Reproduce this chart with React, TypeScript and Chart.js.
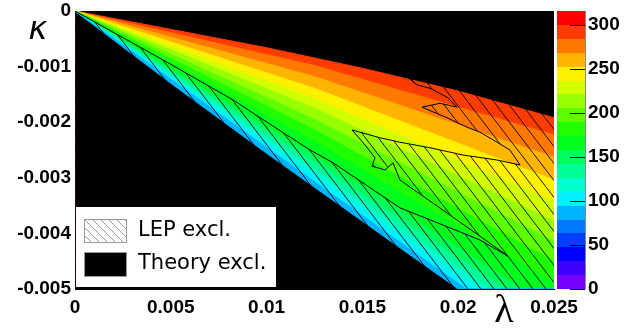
import React, { useEffect, useRef } from 'react';
import { Chart, registerables } from 'chart.js';

Chart.register(...registerables);

// ---------- axis ticks ----------
const xTicks = [0, 0.005, 0.01, 0.015, 0.02, 0.025];
const xTickLabels = ['0', '0.005', '0.01', '0.015', '0.02', '0.025'];
const yTicks = [0, -0.001, -0.002, -0.003, -0.004, -0.005];
const yTickLabels = ['0', '-0.001', '-0.002', '-0.003', '-0.004', '-0.005'];
const zTicks = [0, 50, 100, 150, 200, 250, 300];
const zTickLabels = ['0', '50', '100', '150', '200', '250', '300'];

// ---------- colour scale (20 contour bands) ----------
const zLevels = [0, 15.8, 31.6, 47.4, 63.2, 79, 94.8, 110.6, 126.4, 142.2, 158, 173.8, 189.6, 205.4, 221.2, 237, 252.8, 268.6, 284.4, 300.2, 316];
const bandColors = [
  'rgb(119,0,255)', 'rgb(59,0,255)', 'rgb(0,2,255)', 'rgb(0,61,255)', 'rgb(0,121,255)',
  'rgb(0,181,255)', 'rgb(0,241,255)', 'rgb(0,255,209)', 'rgb(0,255,150)', 'rgb(0,255,90)',
  'rgb(0,255,29)', 'rgb(31,255,0)', 'rgb(91,255,0)', 'rgb(151,255,0)', 'rgb(210,255,0)',
  'rgb(255,240,0)', 'rgb(255,180,0)', 'rgb(255,120,0)', 'rgb(255,60,0)', 'rgb(255,0,0)',
];

// ---------- theory-allowed wedge ----------
const upperLambda = [0, 0.005, 0.01, 0.015, 0.02, 0.025];
const upperKappa = [0, -0.00033, -0.00066, -0.00103, -0.00144, -0.00192];
const lowerLambda = [0, 0.005, 0.01, 0.015, 0.02, 0.025];
const lowerKappa = [0, -0.0013, -0.00256, -0.00378, -0.005, -0.005];

// ---------- contour lines of the colour map ----------
const contourLevels = [94.8, 110.6, 126.4, 142.2, 158, 173.8, 189.6, 205.4, 221.2, 237, 252.8, 268.6, 284.4];
const contourMidLambda = 0.0125;
const contourMidKappa = [-0.00307, -0.00296, -0.00285, -0.00272, -0.0026, -0.00235, -0.00214, -0.00195, -0.00175, -0.00158, -0.00139, -0.00118, -0.00098];
const contourEndLambda = [0.02041, 0.02098, 0.02166, 0.02244, 0.02333, 0.025, 0.025, 0.025, 0.025, 0.025, 0.025, 0.025, 0.025];
const contourEndKappa = [-0.005, -0.005, -0.005, -0.005, -0.005, -0.00489, -0.0045, -0.00414, -0.00378, -0.00342, -0.00304, -0.00263, -0.00223];

// ---------- LEP exclusion contour (boundary of allowed region) ----------
const lepLambda = [0.0172, 0.01785, 0.01853, 0.01942, 0.01994, 0.01905, 0.01811, 0.01942, 0.02046, 0.02114, 0.02203, 0.0227, 0.02323, 0.02203, 0.02025, 0.01853, 0.01696, 0.01592, 0.01446, 0.01514, 0.01566, 0.0155, 0.01618, 0.0166, 0.01696, 0.01957, 0.02114, 0.0226, 0.02114, 0.01957, 0.01696, 0.01347, 0.01227, 0.00966, 0.00825, 0.0048, 0];
const lepKappa = [-0.00115, -0.00133, -0.00139, -0.00155, -0.00173, -0.00166, -0.00173, -0.00192, -0.00209, -0.00218, -0.00236, -0.0025, -0.00277, -0.00268, -0.00259, -0.00246, -0.00236, -0.00228, -0.00214, -0.00241, -0.00264, -0.00279, -0.00286, -0.00273, -0.00304, -0.00367, -0.00405, -0.00441, -0.00412, -0.0039, -0.00354, -0.00273, -0.0025, -0.00192, -0.0016, -0.00092, 0];

const legendLabels = ['LEP excl.', 'Theory excl.'];
const xTitle = 'λ';
const yTitle = 'κ';

type P = { x: number; y: number };

function zip(xs: number[], ys: number[]): P[] {
  return xs.map((x, i) => ({ x, y: ys[i] }));
}

function contourPoints(k: number): P[] {
  const pts: P[] = [
    { x: 0, y: 0 },
    { x: contourMidLambda, y: contourMidKappa[k] },
    { x: contourEndLambda[k], y: contourEndKappa[k] },
  ];
  if (contourEndLambda[k] < 0.025) pts.push({ x: 0.025, y: -0.005 });
  return pts;
}

function makeHatch(): CanvasPattern | string {
  const c = document.createElement('canvas');
  const w = 13, h = 17;
  c.width = w;
  c.height = h;
  const g = c.getContext('2d');
  if (!g) return 'rgba(0,0,0,0)';
  g.strokeStyle = 'rgba(0,0,0,0.9)';
  g.lineWidth = 1;
  for (const n of [-1, 0, 1]) {
    g.beginPath();
    g.moveTo(0, n * h);
    g.lineTo(w, h + n * h);
    g.stroke();
  }
  return g.createPattern(c, 'repeat') || 'rgba(0,0,0,0)';
}

const tickFont = { family: "'Liberation Sans', Arial, sans-serif", size: 19, weight: 'bold' as const, lineHeight: 1 };

function noPad(s: any) {
  s.paddingTop = 0;
  s.paddingBottom = 0;
  s.paddingLeft = 0;
  s.paddingRight = 0;
}

const decorPlugin = {
  id: 'rootDecor',
  beforeDraw(chart: any) {
    const { ctx, chartArea: a } = chart;
    ctx.save();
    ctx.fillStyle = '#000';
    ctx.fillRect(a.left, a.top, a.right - a.left, a.bottom - a.top);
    ctx.restore();
  },
  afterDraw(chart: any) {
    const { ctx, chartArea: a } = chart;
    const z = chart.scales.z;
    ctx.save();
    // colour bar
    const cbL = a.right + 3;
    const cbW = 28;
    for (let i = 0; i < bandColors.length; i++) {
      const y1 = z.getPixelForValue(zLevels[i]);
      const y2 = z.getPixelForValue(zLevels[i + 1]);
      ctx.fillStyle = bandColors[i];
      ctx.fillRect(cbL, Math.round(y2), cbW, Math.round(y1) - Math.round(y2));
    }
    ctx.strokeStyle = '#000';
    ctx.lineWidth = 1;
    for (const v of zTicks) {
      const y = Math.round(z.getPixelForValue(v)) + 0.5;
      ctx.beginPath();
      ctx.moveTo(cbL + 13, y);
      ctx.lineTo(cbL + cbW, y);
      ctx.stroke();
    }
    ctx.strokeStyle = '#888';
    ctx.beginPath();
    ctx.moveTo(cbL + cbW + 0.5, Math.round(z.getPixelForValue(zLevels[zLevels.length - 1])));
    ctx.lineTo(cbL + cbW + 0.5, Math.round(z.getPixelForValue(0)));
    ctx.stroke();

    // legend
    const lx = a.left + 1, ly = 207, lw = 200, lh = 80;
    ctx.fillStyle = '#fff';
    ctx.fillRect(lx, ly, lw, lh);
    // hatch swatch
    const sx = 84, sw = 43, sh = 24;
    const s1y = 219, s2y = 252;
    ctx.save();
    ctx.beginPath();
    ctx.rect(sx, s1y, sw, sh);
    ctx.clip();
    ctx.strokeStyle = '#999';
    ctx.lineWidth = 1;
    for (let k = -40; k < sw + 10; k += 8) {
      ctx.beginPath();
      ctx.moveTo(sx + k, s1y);
      ctx.lineTo(sx + k + sh, s1y + sh);
      ctx.stroke();
    }
    ctx.restore();
    ctx.strokeStyle = '#999';
    ctx.strokeRect(sx + 0.5, s1y + 0.5, sw - 1, sh - 1);
    ctx.fillStyle = '#000';
    ctx.fillRect(sx, s2y, sw, sh + 1);
    ctx.strokeRect(sx + 0.5, s2y + 0.5, sw - 1, sh);
    ctx.fillStyle = '#000';
    ctx.font = "21px 'DejaVu Sans', sans-serif";
    ctx.textAlign = 'left';
    ctx.textBaseline = 'middle';
    ctx.fillText(legendLabels[0], 138, s1y + sh / 2);
    ctx.fillText(legendLabels[1], 138, s2y + sh / 2);

    // axis titles
    ctx.textAlign = 'center';
    ctx.textBaseline = 'middle';
    ctx.font = "italic 32px 'DejaVu Sans', sans-serif";
    ctx.fillText(yTitle, 38, 31);
    ctx.font = "40px 'Liberation Serif', serif";
    ctx.fillText(xTitle, 504, 311);
    ctx.restore();
  },
};

export default function App() {
  const ref = useRef<HTMLCanvasElement>(null);
  useEffect(() => {
    const canvas = ref.current;
    if (!canvas) return;
    const hatch = makeHatch();

    const boundaries: P[][] = [zip(lowerLambda, lowerKappa)];
    contourLevels.forEach((_, k) => boundaries.push(contourPoints(k)));
    boundaries.push(zip(upperLambda, upperKappa));
    const firstBand = zLevels.findIndex((l) => Math.abs(l - contourLevels[0]) < 1e-6) - 1;

    const datasets: any[] = [];
    for (let k = 0; k < boundaries.length - 1; k++) {
      const poly = [...boundaries[k], ...boundaries[k + 1].slice().reverse()];
      const col = bandColors[firstBand + k];
      datasets.push({
        data: poly,
        fill: 'shape',
        backgroundColor: col,
        borderColor: col,
        borderWidth: 1,
        pointRadius: 0,
        order: 3,
      });
    }
    const lepPts = zip(lepLambda, lepKappa);
    const hatchPoly = [
      ...lepPts,
      { x: 0, y: -0.005 },
      { x: 0.025, y: -0.005 },
      { x: 0.025, y: 0 },
      { x: lepLambda[0], y: 0 },
    ];
    datasets.push({
      data: hatchPoly,
      fill: 'shape',
      backgroundColor: hatch,
      borderColor: 'rgba(0,0,0,0)',
      borderWidth: 0,
      pointRadius: 0,
      order: 2,
    });
    datasets.push({
      data: lepPts,
      fill: false,
      borderColor: '#000',
      borderWidth: 1,
      pointRadius: 0,
      order: 1,
    });

    const chart = new Chart(canvas, {
      type: 'line',
      data: { datasets },
      plugins: [decorPlugin],
      options: {
        animation: false,
        responsive: false,
        devicePixelRatio: 1,
        events: [],
        layout: { autoPadding: false, padding: { top: 11, left: 0, right: 0, bottom: 0 } },
        plugins: { legend: { display: false }, tooltip: { enabled: false } },
        scales: {
          x: {
            type: 'linear',
            min: 0,
            max: 0.025,
            grid: { display: false, drawTicks: false },
            border: { display: true, color: '#000', width: 1 },
            afterBuildTicks: (s: any) => { s.ticks = xTicks.map((v) => ({ value: v })); },
            afterFit: (s: any) => { s.height = 40; noPad(s); },
            ticks: {
              autoSkip: false,
              maxRotation: 0,
              padding: 9,
              color: '#000',
              font: tickFont,
              callback: (_v: any, i: number) => xTickLabels[i],
            },
          },
          y: {
            type: 'linear',
            min: -0.005,
            max: 0,
            grid: { display: false, drawTicks: false },
            border: { display: true, color: '#300', width: 1 },
            afterBuildTicks: (s: any) => { s.ticks = yTicks.map((v) => ({ value: v })); },
            afterFit: (s: any) => { s.width = 75; noPad(s); },
            ticks: {
              autoSkip: false,
              padding: 4,
              color: '#000',
              font: tickFont,
              callback: (_v: any, i: number) => yTickLabels[i],
            },
          },
          z: {
            type: 'linear',
            position: 'right',
            min: 0,
            max: 316,
            grid: { display: false, drawTicks: false },
            border: { display: false },
            afterBuildTicks: (s: any) => { s.ticks = zTicks.map((v) => ({ value: v })); },
            afterFit: (s: any) => { s.width = 78; noPad(s); },
            ticks: {
              autoSkip: false,
              padding: 34,
              color: '#000',
              font: tickFont,
              callback: (_v: any, i: number) => zTickLabels[i],
            },
          },
        },
      } as any,
    });
    return () => chart.destroy();
  }, []);

  return (
    <div style={{ position: 'absolute', left: 0, top: 0, width: 632, height: 329 }}>
      <canvas ref={ref} width={632} height={329} style={{ display: 'block' }} />
    </div>
  );
}
